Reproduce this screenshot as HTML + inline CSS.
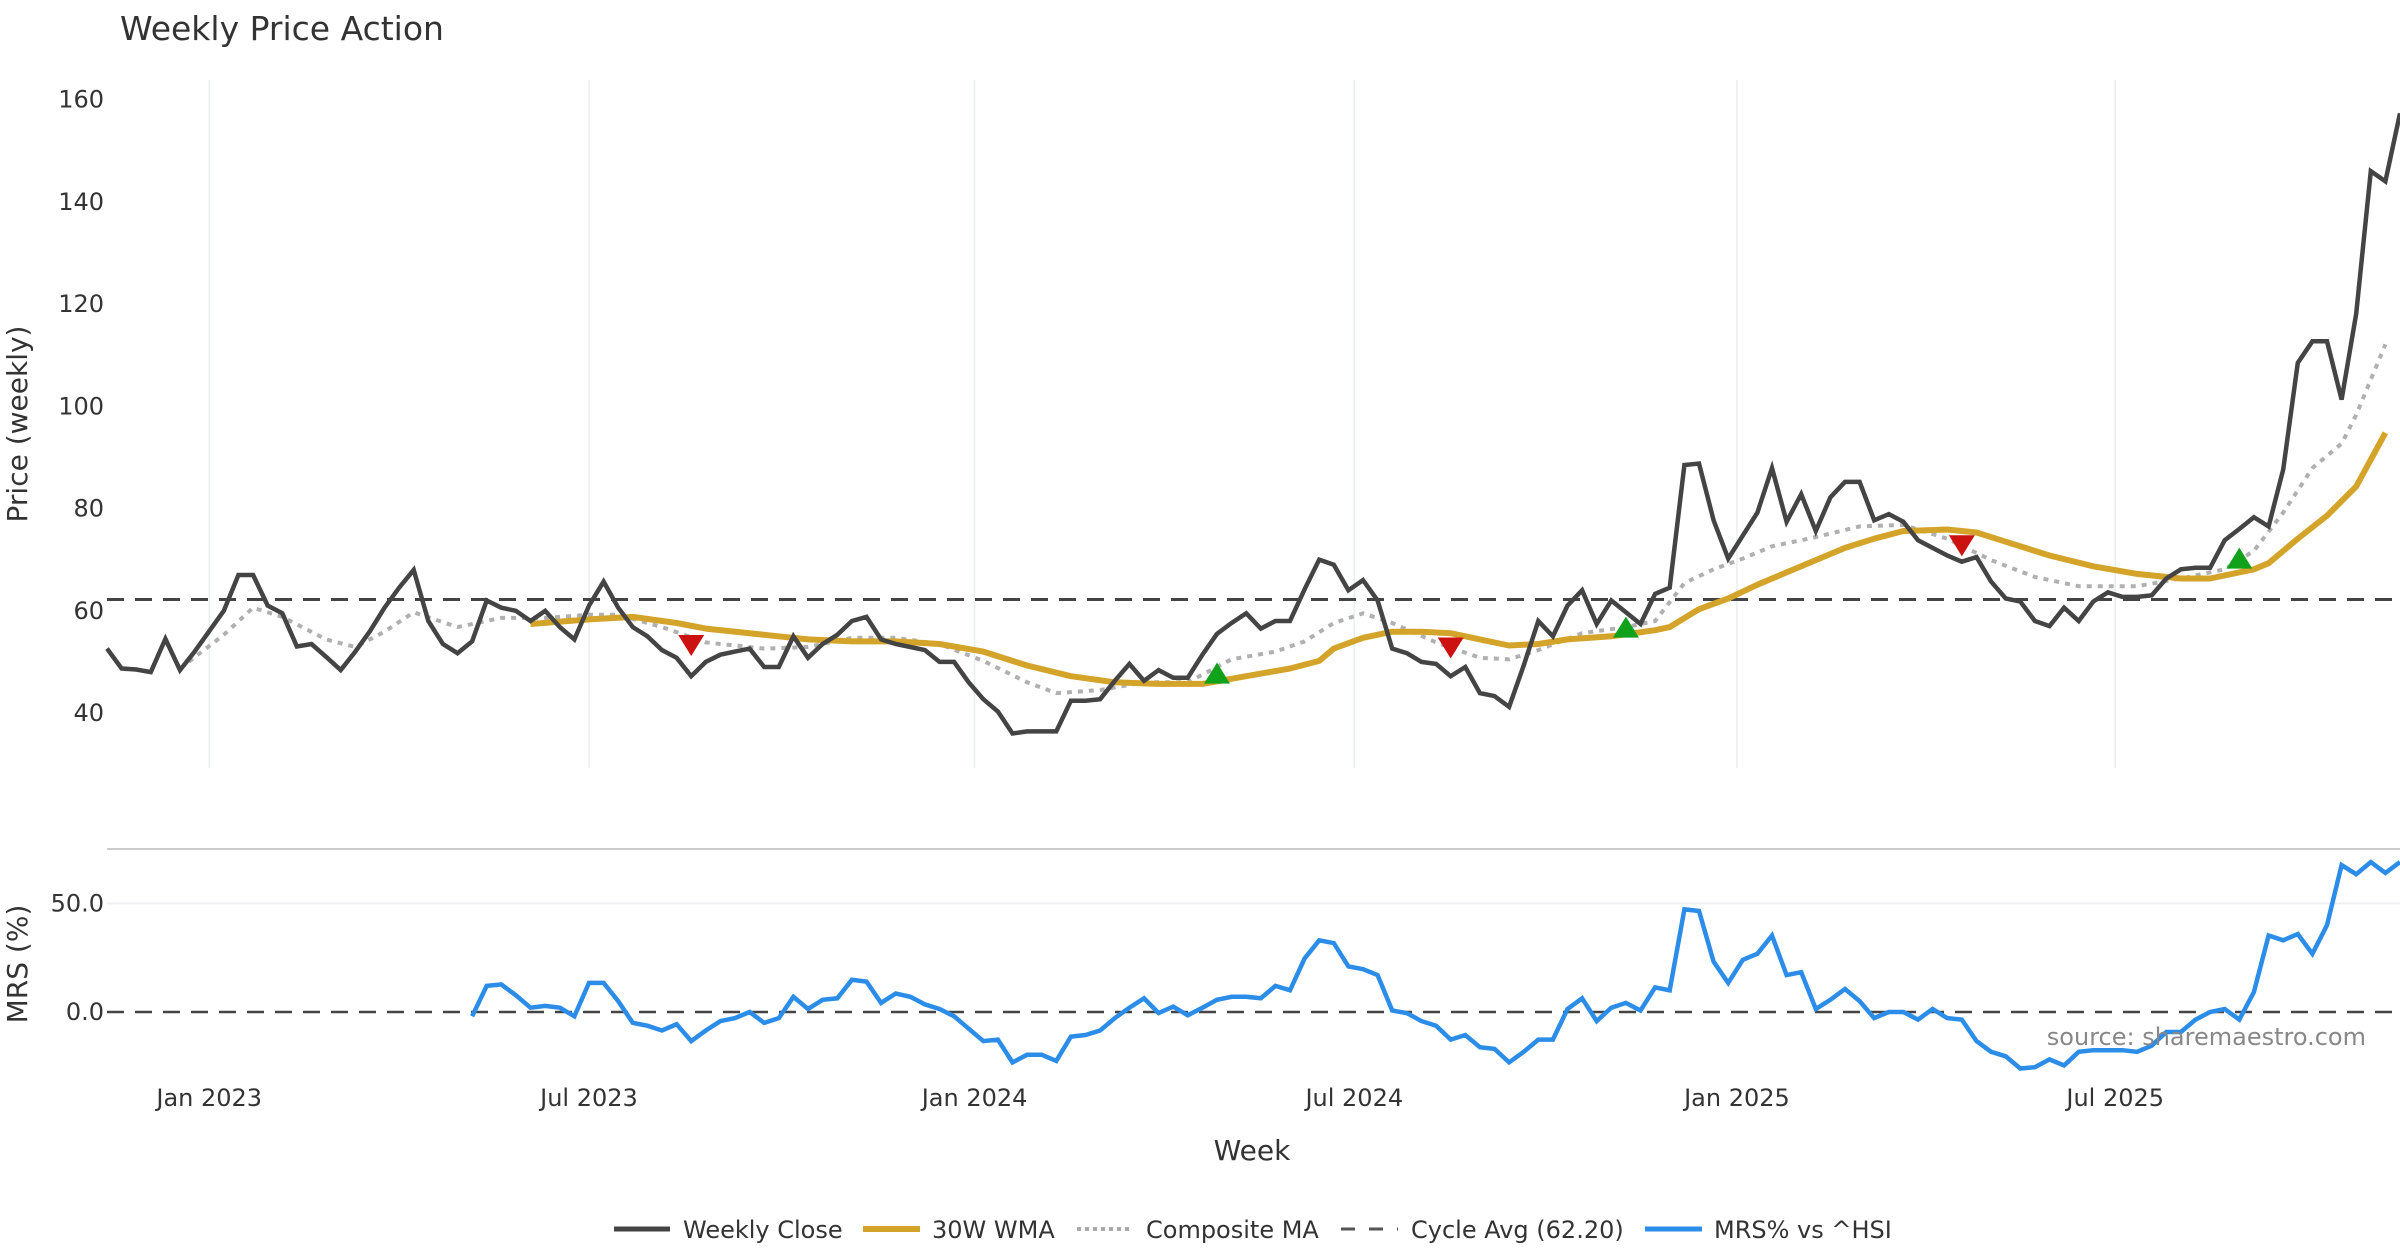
<!DOCTYPE html>
<html><head><meta charset="utf-8"><title>Weekly Price Action</title>
<style>
html,body{margin:0;padding:0;background:#fff;}
svg{display:block;font-family:"DejaVu Sans","Liberation Sans",sans-serif;}
</style></head>
<body>
<svg id="chart" width="2400" height="1260" viewBox="0 0 2400 1260">
<text x="120" y="40" font-size="33" fill="#333">Weekly Price Action</text>
<g id="grid"></g>
<g id="price"></g>
<g id="mrs"></g>
<g id="axes"></g>
<text x="2366" y="1045" font-size="24" fill="#888" text-anchor="end">source: sharemaestro.com</text>
<text x="1252" y="1160" font-size="28" fill="#333" text-anchor="middle">Week</text>
<text transform="translate(27,424) rotate(-90)" font-size="28" fill="#333" text-anchor="middle">Price (weekly)</text>
<text transform="translate(27,964) rotate(-90)" font-size="28" fill="#333" text-anchor="middle">MRS (%)</text>
<g id="legend">
  <g><line x1="614" y1="1229" x2="670" y2="1229" stroke="#444" stroke-width="5"/><text x="683" y="1238" font-size="24" fill="#333">Weekly Close</text></g>
  <g><line x1="863" y1="1229" x2="920" y2="1229" stroke="#d4a42a" stroke-width="6"/><text x="932" y="1238" font-size="24" fill="#333">30W WMA</text></g>
  <g><line x1="1077" y1="1229" x2="1133" y2="1229" stroke="#aaa" stroke-width="4" stroke-dasharray="4,4"/><text x="1146" y="1238" font-size="24" fill="#333">Composite MA</text></g>
  <g><line x1="1341" y1="1229" x2="1398" y2="1229" stroke="#555" stroke-width="3" stroke-dasharray="14,14"/><text x="1411" y="1238" font-size="24" fill="#333">Cycle Avg (62.20)</text></g>
  <g><line x1="1645" y1="1229" x2="1702" y2="1229" stroke="#2b8de8" stroke-width="5"/><text x="1714" y="1238" font-size="24" fill="#333">MRS% vs ^HSI</text></g>
</g>
</svg>
<script>
const closeValues = [52.6,48.7,48.5,48,54.5,48.4,52,56,60,67,67,61,59.5,53,53.5,51,48.4,52,56,60.6,64.5,68,58,53.5,51.7,54,62,60.6,60,58,60,56.8,54.4,61,65.7,60.6,56.8,55,52.3,50.8,47.2,50,51.4,52,52.6,49,49,55,50.8,53.5,55.3,58,58.8,54.4,53.5,52.9,52.3,50,50,46,42.7,40.3,36,36.4,36.4,36.4,42.4,42.4,42.7,46.3,49.6,46.3,48.4,46.9,46.9,51.4,55.5,57.6,59.5,56.5,58,58,64.2,70,69,64,66,62,52.6,51.7,50,49.6,47.2,49,43.9,43.3,41.2,49.3,58,55,61,64,57.4,62,59.7,57.4,63.3,64.5,88.5,88.8,77.7,70.2,74.7,79.2,87.9,77.4,82.8,75.6,82.2,85.2,85.2,77.7,78.9,77.4,73.8,72.3,70.8,69.6,70.5,65.7,62.4,61.8,58,57,60.6,58,61.8,63.6,62.7,62.7,63,66.3,68.1,68.4,68.4,73.8,76,78.3,76.5,87.6,108.5,112.7,112.7,101.3,118.1,146,144,157.3];
const wmaWeeks = [29,33,36,39,41,45,48,51,54,57,60,63,66,69,72,75,78,81,83,84,86,88,90,92,94,96,98,100,103,106,107,109,111,113,115,117,119,121,123,126,128,130,133,136,139,142,144,147,148,150,152,154,156];
const wmaValues = [57.4,58.3,58.8,57.6,56.5,55.3,54.4,54,54,53.5,52,49.3,47.2,46,45.7,45.7,47.2,48.7,50.2,52.6,54.7,55.9,55.9,55.6,54.4,53.2,53.5,54.4,55,56.2,56.8,60.3,62.4,65.1,67.5,69.9,72.3,74.1,75.6,75.9,75.3,73.5,70.8,68.7,67.2,66.3,66.3,68.1,69.3,74.1,78.6,84.3,94.8];
const compWeeks = [5,8,10,12,15,17,19,21,24,27,30,33,35,38,41,45,48,51,54,57,60,63,65,68,71,74,77,80,82,84,86,88,91,94,96,98,101,104,106,108,110,112,114,117,120,123,126,129,132,135,139,142,145,147,149,151,153,154,156];
const compValues = [48.7,55.3,60.6,58.8,54.4,52.9,55.9,59.7,56.8,58.6,58.6,59.2,59.2,56.8,53.8,52.6,52.9,54.7,54.7,53.5,50.2,46,43.9,44.5,46,46,50.5,52,54,57.6,59.5,57.6,53.8,50.8,50.5,52.3,55.6,56.8,58,65.4,68.1,70.2,72.6,74.4,76.5,76.8,74.1,69.9,66.6,64.8,64.8,66.3,68.1,71.7,79.2,87.9,92.7,98.3,112.1];
const mrsValues = [-2,12,12.7,7.7,2,2.8,2,-2,13.4,13.4,5,-5,-6.3,-8.5,-5.6,-13.4,-8.5,-4.2,-2.8,0,-5,-2.8,7,1.4,5.6,6.3,14.8,14,4.2,8.5,7,3.5,1.4,-2,-7.7,-13.4,-12.7,-23.2,-19.7,-19.7,-22.5,-11.3,-10.6,-8.5,-2.8,2,6.3,-0.5,2.5,-1.5,2,5.6,7,7,6.3,12,10,24.6,33,31.7,21,19.7,17,0.7,-0.5,-4.2,-6.3,-12.7,-10.6,-16.2,-17,-23.2,-18.3,-12.7,-12.7,1.4,6.3,-4.2,2,4.2,0.7,11.3,10,47.2,46.5,23.2,13.4,24,26.8,35.2,17,18.3,1.4,5.6,10.6,5,-2.8,0,0,-3.5,1.4,-2.8,-3.5,-13.4,-18.3,-20.4,-26,-25.4,-21.8,-24.6,-18.3,-17.6,-17.6,-17.6,-18.3,-15.5,-9.2,-9.2,-3.5,0,1.4,-3.5,9.2,35.2,33,35.9,26.8,40,67.6,63.4,69,64,69];
const upSignalWeeks = [76,104,146];
const upSignalValues = [47.5,56.5,70];
const downSignalWeeks = [40,92,127];
const downSignalValues = [53.5,53,73];
const cycleAvg = 62.2;
const priceTicks = [40,60,80,100,120,140,160];
const mrsTicks = [0,50];
const dateTickLabels = ["Jan 2023","Jul 2023","Jan 2024","Jul 2024","Jan 2025","Jul 2025"];
const dateTickWeeks = [7,33,59.4,85.4,111.6,137.5];

const NS = "http://www.w3.org/2000/svg";
const N = closeValues.length;
const X0 = 107, X1 = 2400;
function xw(i){ return X0 + i*(X1-X0)/(N-1); }
function yp(v){ return 713 - (v-40)*5.1125; }
function ym(v){ return 1012 - v*2.173; }
function mk(tag, attrs, parent){ const e=document.createElementNS(NS,tag); for(const k in attrs) e.setAttribute(k,attrs[k]); parent.appendChild(e); return e; }
function pts(ws, vs, yf){ return ws.map((w,k)=>xw(w).toFixed(1)+","+yf(vs[k]).toFixed(1)).join(" "); }

const grid = document.getElementById("grid");
const axes = document.getElementById("axes");
const price = document.getElementById("price");
const mrs = document.getElementById("mrs");

dateTickWeeks.forEach((w,k)=>{
  const gl = mk("line",{x1:xw(w),x2:xw(w),y1:80,y2:768,stroke:"#e8eef2","stroke-width":1.5},grid);
  
  
  const t = mk("text",{x:xw(w),y:1106,"font-size":24,fill:"#333","text-anchor":"middle"},axes);
  t.textContent = dateTickLabels[k];
  
  
});
priceTicks.forEach(v=>{
  const t = mk("text",{x:104,y:yp(v)+8,"font-size":24,fill:"#333","text-anchor":"end"},axes);
  t.textContent = v;
  
  
});
mrsTicks.forEach(v=>{
  const t = mk("text",{x:104,y:ym(v)+8,"font-size":24,fill:"#333","text-anchor":"end"},axes);
  t.textContent = v.toFixed(1);
  
  
});
const sep = mk("line",{x1:107,x2:2400,y1:849,y2:849,stroke:"#ccc","stroke-width":2},grid);


const g50 = mk("line",{x1:107,x2:2400,y1:ym(50),y2:ym(50),stroke:"#eef0f2","stroke-width":2},grid);



const cyc = mk("line",{x1:107,x2:2400,y1:yp(cycleAvg),y2:yp(cycleAvg),stroke:"#444","stroke-width":3,"stroke-dasharray":"17,11"},price);



const comp = mk("polyline",{points:pts(compWeeks,compValues,yp),fill:"none",stroke:"#b0b0b0","stroke-width":4,"stroke-dasharray":"5,6"},price);


const wma = mk("polyline",{points:pts(wmaWeeks,wmaValues,yp),fill:"none",stroke:"#d4a42a","stroke-width":6,"stroke-linejoin":"round"},price);


const cl = mk("polyline",{points:pts(closeValues.map((v,i)=>i),closeValues,yp),fill:"none",stroke:"#444","stroke-width":4.5,"stroke-linejoin":"miter"},price);



upSignalWeeks.forEach((w,k)=>{
  const x=xw(w), y=yp(upSignalValues[k]);
  const p = mk("polygon",{points:`${x-13},${y+9} ${x+13},${y+9} ${x},${y-12}`,fill:"#11a11a"},price);
  
  
});
downSignalWeeks.forEach((w,k)=>{
  const x=xw(w), y=yp(downSignalValues[k]);
  const p = mk("polygon",{points:`${x-13},${y-9} ${x+13},${y-9} ${x},${y+12}`,fill:"#cc1111"},price);
  
  
});

const z = mk("line",{x1:107,x2:2400,y1:ym(0),y2:ym(0),stroke:"#444","stroke-width":2.5,"stroke-dasharray":"17,11"},mrs);


const mStart = N - mrsValues.length;
const ml = mk("polyline",{points:pts(mrsValues.map((v,k)=>mStart+k),mrsValues,ym),fill:"none",stroke:"#2b8de8","stroke-width":4.5,"stroke-linejoin":"miter"},mrs);


</script>
</body></html>
